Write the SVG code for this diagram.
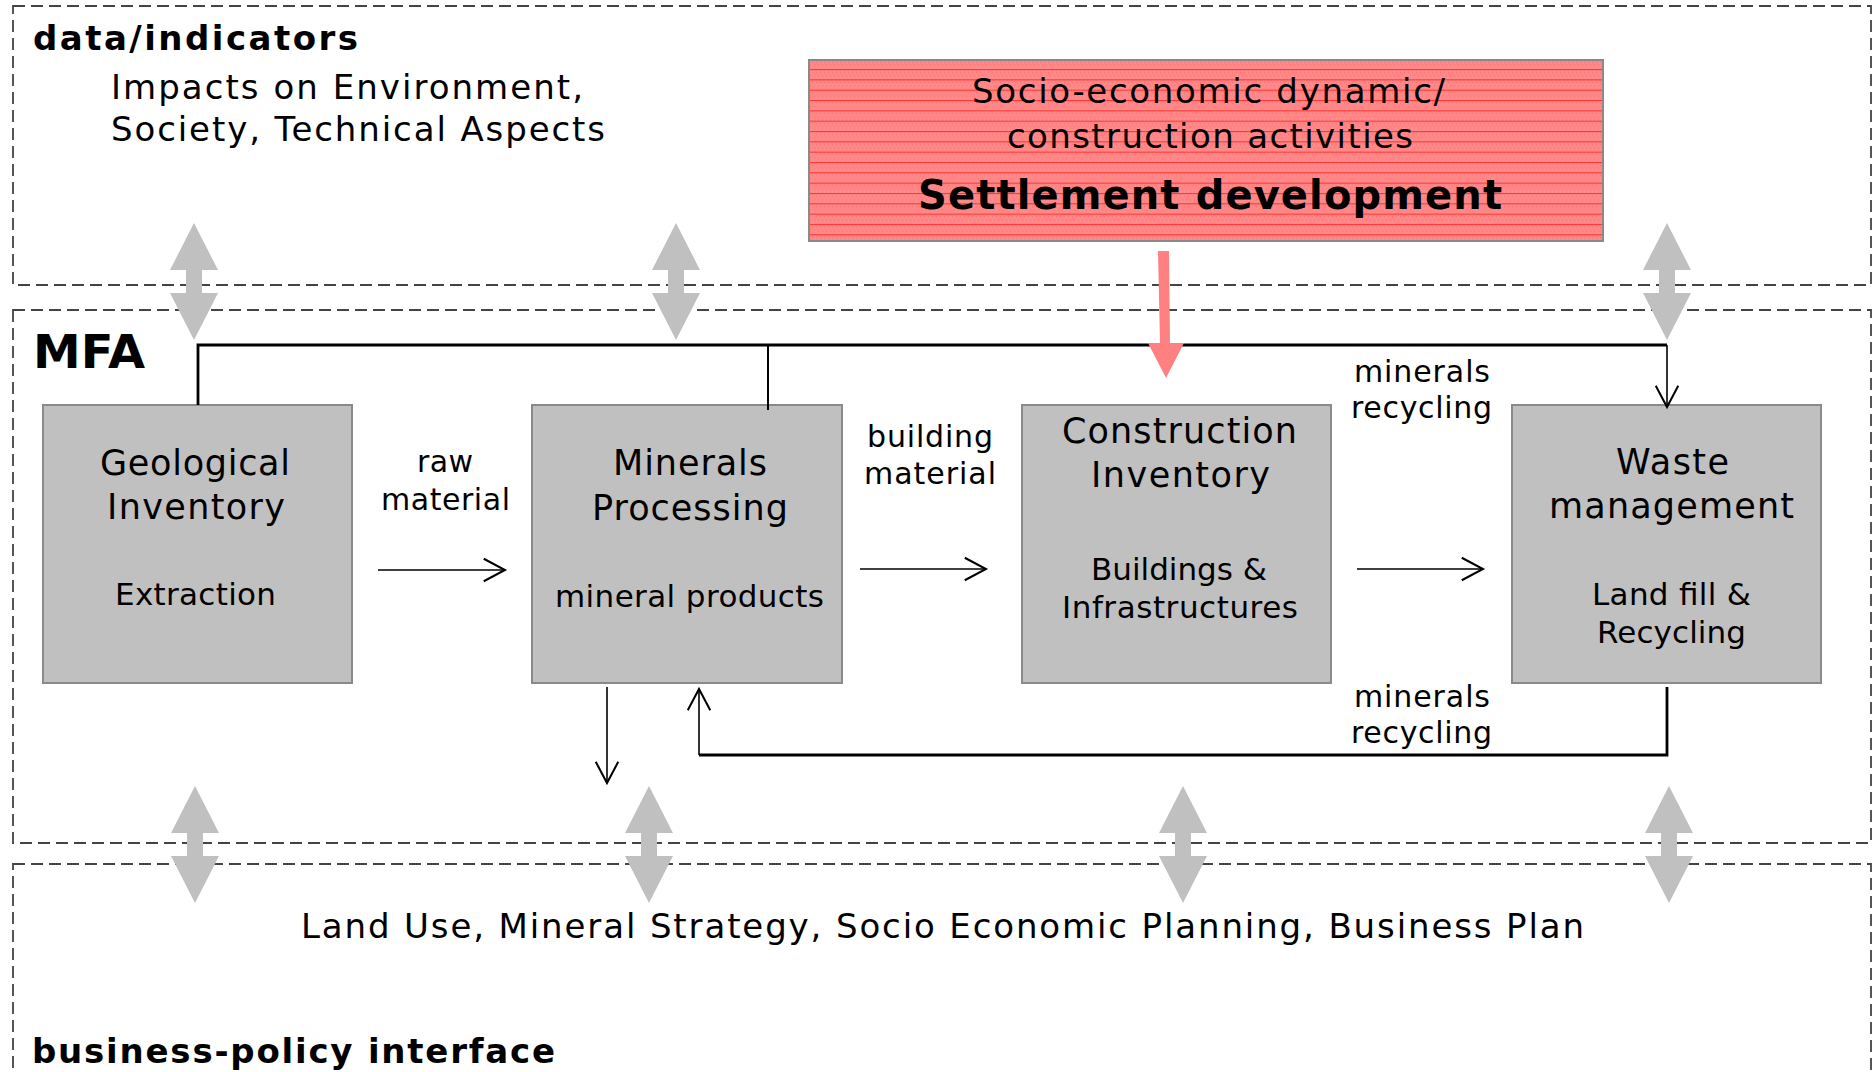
<svg xmlns="http://www.w3.org/2000/svg" width="1872" height="1072" viewBox="0 0 1872 1072">
<style>
  text { font-family: "DejaVu Sans", Verdana, sans-serif; fill: #000; }
  .b { font-weight: bold; }
  .t35 { font-size: 35px; }
  .t34 { font-size: 34px; }
  .t31 { font-size: 31px; }
  .t30 { font-size: 30px; }
  .frame { fill: none; stroke: #444; stroke-width: 1.8; stroke-dasharray: 12 6; }
  .node { fill: #c0c0c0; stroke: #8a8a8a; stroke-width: 2; }
  .thick { fill: none; stroke: #000; stroke-width: 2.8; }
  .mid { fill: none; stroke: #000; stroke-width: 2; }
  .thin { fill: none; stroke: #000; stroke-width: 1.6; }
  .dbl { fill: #c0c0c0; }
</style>
<defs>
  <marker id="open" markerUnits="userSpaceOnUse" markerWidth="30" markerHeight="30" viewBox="-20 -12 24 24" refX="0" refY="0" orient="auto">
    <path d="M-17,-9 L0,0 L-17,9" fill="none" stroke="#000" stroke-width="1.6"/>
  </marker>
  <pattern id="stripes" patternUnits="userSpaceOnUse" x="0" y="69" width="4" height="10.33">
    <rect width="4" height="10.33" fill="#ff8888"/>
    <rect x="0" y="3" width="1" height="1" fill="#ff6f6f"/>
    <rect x="2" y="6" width="1" height="1" fill="#ff6f6f"/>
    <rect x="0" y="0" width="4" height="1.1" fill="#ff3535"/>
  </pattern>
  <polygon id="dblArrow" points="0,0 24,47 8,47 8,70 24,70 0,117 -24,70 -8,70 -8,47 -24,47"/>
</defs>

<g id="frames">
  <rect id="frame-data" class="frame" x="13" y="6" width="1858" height="279"/>
  <rect id="frame-mfa" class="frame" x="13" y="310" width="1858" height="533"/>
  <rect id="frame-business" class="frame" x="13" y="864" width="1858" height="260"/>
</g>

<g id="labels">
  <text class="b" x="33" y="50" font-size="34" textLength="325" lengthAdjust="spacing">data/indicators</text>
  <text class="t34" x="111" y="99" textLength="472" lengthAdjust="spacing">Impacts on Environment,</text>
  <text class="t34" x="111" y="141" textLength="494" lengthAdjust="spacing">Society, Technical Aspects</text>
  <text class="b" x="33" y="368" font-size="47" textLength="112" lengthAdjust="spacingAndGlyphs">MFA</text>
  <text class="t34" x="301" y="938" textLength="1283" lengthAdjust="spacing">Land Use, Mineral Strategy, Socio Economic Planning, Business Plan</text>
  <text class="b" x="32" y="1063" font-size="34" textLength="523" lengthAdjust="spacing">business-policy interface</text>
</g>

<g id="vertical-links">
  <use href="#dblArrow" class="dbl" x="194" y="223"/>
  <use href="#dblArrow" class="dbl" x="676" y="223"/>
  <use href="#dblArrow" class="dbl" x="1667" y="223"/>
  <use href="#dblArrow" class="dbl" x="195" y="786"/>
  <use href="#dblArrow" class="dbl" x="649" y="786"/>
  <use href="#dblArrow" class="dbl" x="1183" y="786"/>
  <use href="#dblArrow" class="dbl" x="1669" y="786"/>
</g>

<g id="node-settlement">
  <rect x="809" y="60" width="794" height="181" fill="url(#stripes)" stroke="#8a8a8a" stroke-width="2"/>
  <text class="t34" x="972" y="103" textLength="473" lengthAdjust="spacing">Socio-economic dynamic/</text>
  <text class="t34" x="1007" y="148" textLength="406" lengthAdjust="spacing">construction activities</text>
  <text class="b" x="918" y="209" font-size="40" textLength="584" lengthAdjust="spacing">Settlement development</text>
</g>

<g id="node-geological">
  <rect class="node" x="43" y="405" width="309" height="278"/>
  <text class="t35" x="100" y="475" textLength="190" lengthAdjust="spacing">Geological</text>
  <text class="t35" x="107" y="519" textLength="178" lengthAdjust="spacing">Inventory</text>
  <text class="t31" x="115" y="605" textLength="161" lengthAdjust="spacing">Extraction</text>
</g>

<g id="node-minerals">
  <rect class="node" x="532" y="405" width="310" height="278"/>
  <text class="t35" x="613" y="475" textLength="154" lengthAdjust="spacing">Minerals</text>
  <text class="t35" x="592" y="520" textLength="196" lengthAdjust="spacing">Processing</text>
  <text class="t31" x="555" y="607" textLength="269" lengthAdjust="spacing">mineral products</text>
</g>

<g id="node-construction">
  <rect class="node" x="1022" y="405" width="309" height="278"/>
  <text class="t35" x="1062" y="443" textLength="235" lengthAdjust="spacing">Construction</text>
  <text class="t35" x="1091" y="487" textLength="179" lengthAdjust="spacing">Inventory</text>
  <text class="t31" x="1091" y="580" textLength="176" lengthAdjust="spacing">Buildings &amp;</text>
  <text class="t31" x="1062" y="618" textLength="236" lengthAdjust="spacing">Infrastructures</text>
</g>

<g id="node-waste">
  <rect class="node" x="1512" y="405" width="309" height="278"/>
  <text class="t35" x="1616" y="474" textLength="113" lengthAdjust="spacing">Waste</text>
  <text class="t35" x="1549" y="518" textLength="245" lengthAdjust="spacing">management</text>
  <text class="t31" x="1592" y="605" textLength="159" lengthAdjust="spacing">Land fill &amp;</text>
  <text class="t31" x="1597" y="643" textLength="149" lengthAdjust="spacing">Recycling</text>
</g>

<g id="connectors">
  <polyline class="thick" points="198,405 198,345 1667,345"/>
  <line class="thin" x1="1667" y1="345" x2="1667" y2="407" marker-end="url(#open)"/>
  <line class="mid" x1="768" y1="345" x2="768" y2="410"/>
  <polyline class="thick" points="1667,687 1667,755 699,755"/>
  <line class="thin" x1="699" y1="755" x2="699" y2="689" marker-end="url(#open)"/>
  <line class="thin" x1="607" y1="687" x2="607" y2="783" marker-end="url(#open)"/>
  <line class="thin" x1="378" y1="570" x2="505" y2="570" marker-end="url(#open)"/>
  <line class="thin" x1="860" y1="569" x2="986" y2="569" marker-end="url(#open)"/>
  <line class="thin" x1="1357" y1="569" x2="1483" y2="569" marker-end="url(#open)"/>
  <polygon points="1158,251 1169,251 1170,343 1184,343 1166,378 1148,343 1160,343" fill="#ff8080"/>
  <text class="t30" x="417" y="472" textLength="56" lengthAdjust="spacing">raw</text>
  <text class="t30" x="381" y="510" textLength="129" lengthAdjust="spacing">material</text>
  <text class="t30" x="867" y="447" textLength="126" lengthAdjust="spacing">building</text>
  <text class="t30" x="864" y="484" textLength="132" lengthAdjust="spacing">material</text>
  <text class="t30" x="1354" y="382" textLength="136" lengthAdjust="spacing">minerals</text>
  <text class="t30" x="1351" y="418" textLength="141" lengthAdjust="spacing">recycling</text>
  <text class="t30" x="1354" y="707" textLength="136" lengthAdjust="spacing">minerals</text>
  <text class="t30" x="1351" y="743" textLength="141" lengthAdjust="spacing">recycling</text>
</g>
</svg>
